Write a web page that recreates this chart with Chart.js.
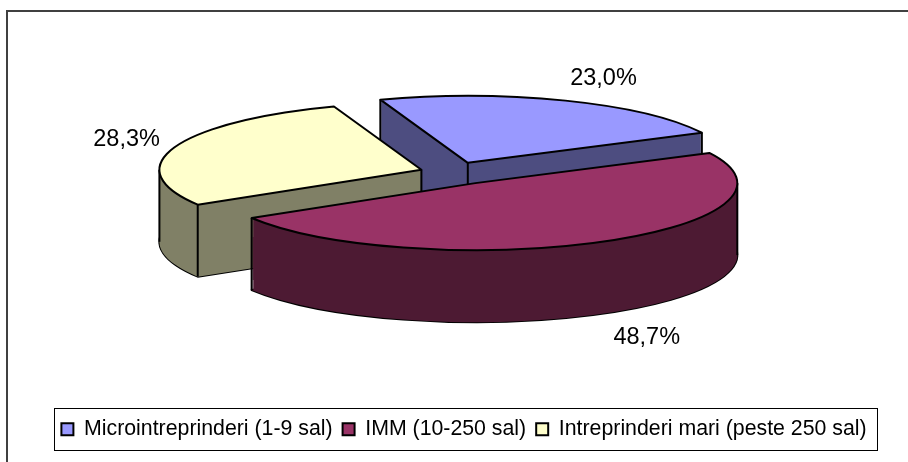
<!DOCTYPE html>
<html>
<head>
<meta charset="utf-8">
<style>
html,body{margin:0;padding:0;background:#fff;}
#wrap{width:908px;height:462px;position:relative;}
</style>
<script src="https://cdn.jsdelivr.net/npm/chart.js@4"></script>
</head>
<body>
<div id="wrap"><canvas id="c" width="908" height="462"></canvas></div>
<script>
const categories = ["Microintreprinderi (1-9 sal)", "IMM (10-250 sal)", "Intreprinderi mari (peste 250 sal)"];
const shares = [23.0, 48.7, 28.3];
const topColors = ["#9999FF", "#993366", "#FFFFCC"];
const wallColors = ["#4D4D80", "#4D1A33", "#808066"];
const explode = [41, 47, 33];
const labelDistanceX = [1.545, 1.527, 1.32];
const labelDistanceY = [1.505, 1.577, 1.455];
const drawOrder = [0, 2, 1];

const FONT = '"Liberation Sans", Arial, sans-serif';
const pieCenter = {x: 452.5, y: 172.6};
const pieRadius = 262;
const tilt = 0.256;
const depth = 72;
const lineW = 2;
const legendFrame = {x: 54.5, y: 408.5, w: 823, h: 42};
const legendShift = {x: 10, y: -1};

function place(ctx, arc, i, dy) {
  const mid = (arc.startAngle + arc.endAngle) / 2;
  ctx.translate(pieCenter.x, pieCenter.y + dy);
  ctx.scale(1, tilt);
  ctx.translate(Math.cos(mid) * explode[i], Math.sin(mid) * explode[i]);
  ctx.translate(-arc.x, -arc.y);
}
function screenPoint(arc, i, angle, radius) {
  const mid = (arc.startAngle + arc.endAngle) / 2;
  return {
    x: pieCenter.x + Math.cos(mid) * explode[i] + Math.cos(angle) * radius,
    y: pieCenter.y + (Math.sin(mid) * explode[i] + Math.sin(angle) * radius) * tilt
  };
}
function addSlice(ctx, arc, i, dy) {
  ctx.save();
  place(ctx, arc, i, dy);
  ctx.moveTo(arc.x, arc.y);
  ctx.arc(arc.x, arc.y, arc.outerRadius, arc.startAngle, arc.endAngle);
  ctx.closePath();
  ctx.restore();
}
function outline(ctx, arc, i, dy) {
  ctx.beginPath();
  addSlice(ctx, arc, i, dy);
  ctx.stroke();
}
function drawWall(ctx, arc, i) {
  ctx.beginPath();
  for (let d = depth; d > 0; d--) addSlice(ctx, arc, i, d);
  ctx.fillStyle = wallColors[i];
  ctx.fill();
}
function drawTop(ctx, arc, i) {
  const saved = arc.options;
  arc.options = Object.assign({}, saved, {backgroundColor: topColors[i], borderWidth: 0, offset: 0});
  ctx.save();
  place(ctx, arc, i, 0);
  arc.draw(ctx);
  ctx.restore();
  arc.options = saved;
}
function vertical(ctx, p) {
  ctx.beginPath();
  ctx.moveTo(p.x, p.y);
  ctx.lineTo(p.x, p.y + depth);
  ctx.stroke();
}

const pie3d = {
  id: 'pie3d',
  afterLayout(chart) {
    const l = chart.legend;
    l.left += legendShift.x; l.right += legendShift.x;
    l.top += legendShift.y; l.bottom += legendShift.y;
  },
  beforeDraw(chart) {
    const ctx = chart.ctx;
    ctx.save();
    ctx.fillStyle = '#fff';
    ctx.fillRect(0, 0, chart.width, chart.height);
    ctx.strokeStyle = '#404040';
    ctx.lineWidth = 2;
    ctx.beginPath();
    ctx.moveTo(7, chart.height);
    ctx.lineTo(7, 11);
    ctx.lineTo(chart.width, 11);
    ctx.stroke();
    ctx.strokeStyle = '#000';
    ctx.lineWidth = 1;
    ctx.strokeRect(legendFrame.x, legendFrame.y, legendFrame.w, legendFrame.h);
    ctx.restore();
  },
  beforeDatasetDraw(chart, args) {
    const ctx = chart.ctx;
    const arcs = args.meta.data;
    ctx.save();
    ctx.strokeStyle = '#000';
    ctx.lineWidth = lineW;
    ctx.lineJoin = 'round';
    drawOrder.forEach(i => {
      const arc = arcs[i];
      const s = arc.startAngle, e = arc.endAngle, r = arc.outerRadius;
      outline(ctx, arc, i, depth);
      drawWall(ctx, arc, i);
      const startCut = Math.sin(s - Math.PI / 2) > 0;
      const endCut = Math.sin(e + Math.PI / 2) > 0;
      if (startCut || Math.sin(s) > 0) vertical(ctx, screenPoint(arc, i, s, r));
      if (endCut || Math.sin(e) > 0) vertical(ctx, screenPoint(arc, i, e, r));
      if (startCut || endCut) vertical(ctx, screenPoint(arc, i, s, 0));
      [0, Math.PI, 2 * Math.PI].forEach(a => {
        if (a > s && a < e) vertical(ctx, screenPoint(arc, i, a, r));
      });
      drawTop(ctx, arc, i);
      outline(ctx, arc, i, 0);
    });
    ctx.restore();
    return false;
  },
  afterDatasetsDraw(chart) {
    const ctx = chart.ctx;
    const arcs = chart.getDatasetMeta(0).data;
    ctx.save();
    ctx.fillStyle = '#000';
    ctx.font = '23.5px ' + FONT;
    ctx.textAlign = 'center';
    ctx.textBaseline = 'middle';
    arcs.forEach((arc, i) => {
      const mid = (arc.startAngle + arc.endAngle) / 2;
      const r = arc.outerRadius;
      const front = Math.sin(mid) > 0.5 ? depth : 0;
      const text = shares[i].toFixed(1).replace('.', ',') + '%';
      ctx.fillText(text,
        pieCenter.x + Math.cos(mid) * r * labelDistanceX[i],
        pieCenter.y + Math.sin(mid) * r * labelDistanceY[i] * tilt + front);
    });
    ctx.restore();
  }
};

new Chart(document.getElementById('c'), {
  type: 'pie',
  data: {
    labels: categories,
    datasets: [{
      data: shares,
      backgroundColor: topColors,
      borderColor: '#000',
      borderWidth: 2,
      clip: false
    }]
  },
  options: {
    responsive: false,
    animation: false,
    rotation: -19.5,
    radius: pieRadius,
    layout: {padding: {bottom: 11}},
    plugins: {
      tooltip: {enabled: false},
      legend: {
        display: true,
        position: 'bottom',
        labels: {
          color: '#000',
          boxWidth: 12,
          boxHeight: 12,
          padding: 10,
          font: {family: FONT, size: 21.3}
        }
      }
    }
  },
  plugins: [pie3d]
});
</script>
</body>
</html>
